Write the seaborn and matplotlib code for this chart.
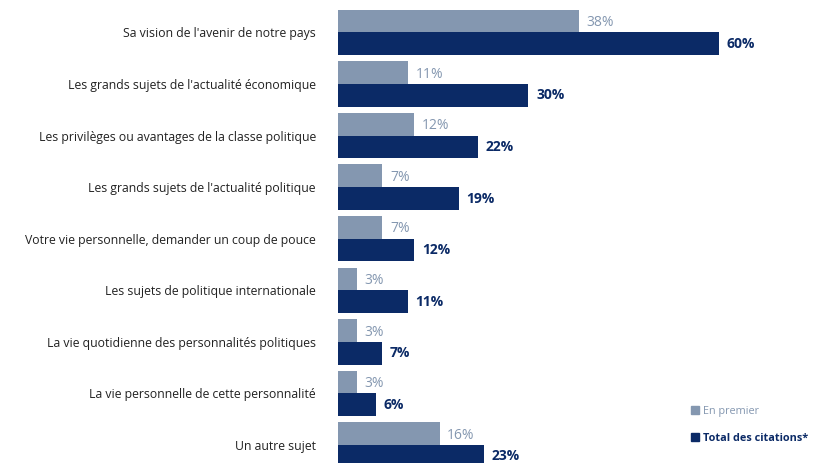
import matplotlib
matplotlib.use("Agg")
import matplotlib.pyplot as plt
import seaborn as sns
import pandas as pd
from matplotlib.patches import Patch

categories = [
    "Sa vision de l'avenir de notre pays",
    "Les grands sujets de l'actualité économique",
    "Les privilèges ou avantages de la classe politique",
    "Les grands sujets de l'actualité politique",
    "Votre vie personnelle, demander un coup de pouce",
    "Les sujets de politique internationale",
    "La vie quotidienne des personnalités politiques",
    "La vie personnelle de cette personnalité",
    "Un autre sujet",
]
en_premier = [38, 11, 12, 7, 7, 3, 3, 3, 16]
total_citations = [60, 30, 22, 19, 12, 11, 7, 6, 23]
series_names = ["En premier", "Total des citations*"]

light = "#8497b0"
navy = "#0b2a66"

df = pd.DataFrame({
    "sujet": categories * 2,
    "valeur": en_premier + total_citations,
    "serie": [series_names[0]] * len(categories) + [series_names[1]] * len(categories),
})

sns.set_theme(style="white")
plt.rcParams["font.family"] = ["Open Sans", "DejaVu Sans"]

fig = plt.figure(figsize=(8.14, 4.63), dpi=100)
ax = fig.add_axes([338 / 814, 0, 1 - 338 / 814, 1])

sns.barplot(
    data=df, y="sujet", x="valeur", hue="serie", order=categories,
    hue_order=series_names, palette=[light, navy], orient="h",
    width=0.88, gap=0, saturation=1, legend=False, linewidth=0, ax=ax,
)

ax.set_xlim(0, 75)
ax.set_ylim(8.35, -0.63)
ax.set_xlabel("")
ax.set_ylabel("")
ax.set_xticks([])
ax.tick_params(axis="y", length=0, pad=16, labelsize=8.8, labelcolor="#222222")
for s in ax.spines.values():
    s.set_visible(False)

# value labels at the end of each bar
for container, color, weight in zip(ax.containers, [light, navy], ["normal", "bold"]):
    for bar in container:
        w = bar.get_width()
        y = bar.get_y() + bar.get_height() / 2
        ax.text(w + 1.2, y + (0.03 if weight == "normal" else 0.0), f"{w:.0f}%",
                va="center", ha="left", fontsize=10, color=color, fontweight=weight)

handles = [Patch(color=light), Patch(color=navy)]
leg = fig.legend(handles, series_names, loc="lower right", bbox_to_anchor=(1.005, 0.02),
                 frameon=False, fontsize=7.8, handlelength=0.7, handleheight=0.7,
                 handletextpad=0.4, labelspacing=1.5)
for txt, c, w in zip(leg.get_texts(), [light, navy], ["normal", "bold"]):
    txt.set_color(c)
    txt.set_fontweight(w)

fig.savefig("out.png", dpi=100)
